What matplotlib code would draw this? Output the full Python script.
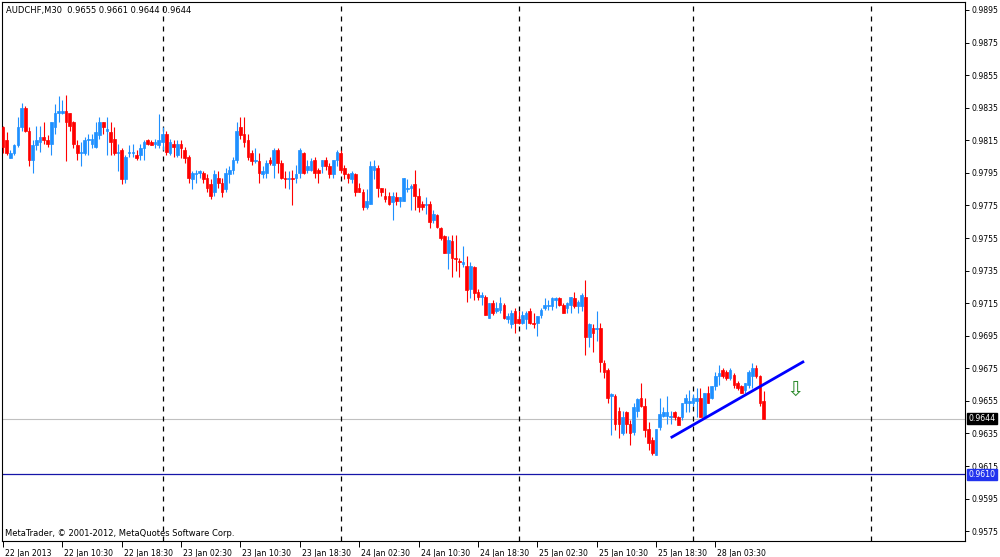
import numpy as np
import matplotlib
matplotlib.use("Agg")
import matplotlib.pyplot as plt
import matplotlib.transforms as mtransforms

# AUDCHF M30 bars, prices in pips (divide by 10000)
opens = np.array([
    9823, 9815, 9804, 9807, 9812, 9823, 9835, 9821, 9803, 9812,
    9814, 9817, 9815, 9813, 9823, 9832, 9832, 9833, 9832, 9826,
    9812, 9807, 9807, 9815, 9813, 9811, 9818, 9826, 9821, 9820,
    9816, 9807, 9809, 9791, 9807, 9807, 9806, 9806, 9810, 9815,
    9814, 9813, 9812, 9814, 9819, 9807, 9813, 9806, 9813, 9809,
    9805, 9791, 9794, 9795, 9795, 9792, 9788, 9783, 9792, 9789,
    9785, 9794, 9797, 9803, 9823, 9819, 9815, 9807, 9802, 9802,
    9794, 9795, 9803, 9800, 9809, 9801, 9792, 9791, 9792, 9792,
    9795, 9807, 9797, 9797, 9803, 9797, 9799, 9803, 9799, 9794,
    9803, 9807, 9798, 9794, 9791, 9794, 9786, 9783, 9774, 9776,
    9797, 9798, 9786, 9781, 9781, 9777, 9780, 9778, 9778, 9785,
    9786, 9788, 9781, 9776, 9775, 9776, 9766, 9769, 9761, 9756,
    9746, 9753, 9743, 9741, 9739, 9738, 9724, 9737, 9722, 9719,
    9719, 9706, 9715, 9710, 9711, 9714, 9705, 9702, 9710, 9705,
    9703, 9705, 9710, 9703, 9703, 9708, 9712, 9713, 9713, 9717,
    9718, 9714, 9712, 9714, 9718, 9713, 9713, 9719, 9694, 9700,
    9699, 9700, 9678, 9674, 9658, 9658, 9649, 9635, 9648, 9641,
    9636, 9649, 9657, 9652, 9638, 9631, 9622, 9639, 9646, 9646,
    9645, 9648, 9645, 9645, 9654, 9654, 9654, 9655, 9657, 9645,
    9660, 9657, 9664, 9670, 9674, 9673, 9669, 9671, 9666, 9664,
    9662, 9665, 9670, 9675, 9670, 9655]) / 10000
highs = np.array([
    9824, 9820, 9809, 9813, 9829, 9838, 9836, 9823, 9815, 9824,
    9824, 9826, 9818, 9826, 9837, 9842, 9840, 9843, 9832, 9827,
    9815, 9814, 9817, 9819, 9819, 9826, 9829, 9826, 9829, 9826,
    9823, 9813, 9810, 9806, 9812, 9813, 9809, 9813, 9815, 9816,
    9815, 9816, 9831, 9823, 9821, 9816, 9815, 9815, 9815, 9811,
    9806, 9796, 9797, 9797, 9796, 9794, 9791, 9797, 9796, 9792,
    9798, 9799, 9805, 9826, 9829, 9829, 9819, 9809, 9810, 9807,
    9799, 9803, 9805, 9810, 9810, 9803, 9796, 9796, 9797, 9800,
    9810, 9808, 9803, 9804, 9805, 9798, 9803, 9805, 9801, 9803,
    9809, 9809, 9800, 9795, 9796, 9795, 9789, 9785, 9785, 9802,
    9803, 9800, 9786, 9786, 9783, 9783, 9783, 9780, 9792, 9791,
    9788, 9797, 9786, 9778, 9780, 9778, 9772, 9770, 9762, 9757,
    9756, 9757, 9757, 9743, 9750, 9744, 9740, 9738, 9724, 9722,
    9720, 9715, 9717, 9716, 9719, 9715, 9709, 9711, 9712, 9710,
    9710, 9710, 9712, 9709, 9707, 9712, 9718, 9717, 9719, 9719,
    9719, 9715, 9716, 9719, 9722, 9717, 9721, 9729, 9703, 9702,
    9710, 9703, 9680, 9675, 9660, 9659, 9651, 9649, 9649, 9643,
    9654, 9657, 9666, 9657, 9642, 9633, 9638, 9657, 9651, 9658,
    9649, 9649, 9646, 9654, 9659, 9662, 9659, 9663, 9663, 9660,
    9664, 9664, 9673, 9677, 9675, 9674, 9675, 9672, 9667, 9665,
    9666, 9674, 9678, 9677, 9671, 9661]) / 10000
lows = np.array([
    9807, 9806, 9804, 9806, 9811, 9821, 9820, 9799, 9795, 9809,
    9808, 9813, 9811, 9806, 9819, 9826, 9831, 9802, 9821, 9810,
    9803, 9799, 9806, 9806, 9810, 9810, 9816, 9819, 9806, 9806,
    9806, 9796, 9788, 9789, 9805, 9805, 9803, 9803, 9803, 9812,
    9812, 9810, 9810, 9809, 9806, 9806, 9805, 9805, 9804, 9801,
    9789, 9785, 9789, 9792, 9789, 9783, 9779, 9781, 9786, 9780,
    9783, 9789, 9794, 9801, 9816, 9811, 9803, 9800, 9801, 9789,
    9792, 9792, 9800, 9792, 9795, 9791, 9786, 9785, 9775, 9789,
    9792, 9794, 9795, 9796, 9792, 9789, 9795, 9797, 9792, 9792,
    9799, 9795, 9791, 9789, 9789, 9781, 9783, 9772, 9773, 9776,
    9791, 9780, 9781, 9777, 9775, 9766, 9775, 9774, 9778, 9783,
    9772, 9772, 9771, 9772, 9770, 9761, 9764, 9761, 9754, 9746,
    9736, 9731, 9735, 9731, 9737, 9716, 9718, 9717, 9717, 9714,
    9708, 9706, 9708, 9709, 9709, 9705, 9703, 9700, 9697, 9702,
    9702, 9699, 9702, 9700, 9695, 9706, 9711, 9711, 9711, 9712,
    9713, 9709, 9709, 9709, 9712, 9709, 9710, 9683, 9688, 9685,
    9692, 9673, 9669, 9654, 9634, 9637, 9632, 9634, 9635, 9628,
    9634, 9645, 9651, 9633, 9625, 9622, 9622, 9637, 9645, 9641,
    9641, 9643, 9640, 9643, 9648, 9648, 9652, 9645, 9645, 9645,
    9654, 9656, 9662, 9665, 9669, 9668, 9668, 9663, 9662, 9660,
    9660, 9663, 9663, 9669, 9652, 9644]) / 10000
closes = np.array([
    9811, 9807, 9807, 9812, 9823, 9835, 9821, 9803, 9812, 9815,
    9817, 9815, 9813, 9826, 9832, 9833, 9833, 9826, 9824, 9813,
    9807, 9808, 9815, 9816, 9816, 9820, 9826, 9823, 9822, 9814,
    9807, 9808, 9791, 9805, 9808, 9808, 9804, 9810, 9814, 9813,
    9812, 9814, 9815, 9819, 9808, 9814, 9811, 9813, 9810, 9804,
    9792, 9795, 9795, 9796, 9791, 9786, 9781, 9794, 9789, 9783,
    9795, 9797, 9803, 9821, 9818, 9814, 9805, 9802, 9803, 9795,
    9796, 9801, 9801, 9809, 9801, 9792, 9791, 9792, 9791, 9794,
    9809, 9795, 9799, 9802, 9795, 9795, 9803, 9799, 9794, 9803,
    9808, 9797, 9794, 9792, 9795, 9783, 9783, 9774, 9778, 9799,
    9799, 9786, 9783, 9779, 9776, 9781, 9778, 9780, 9792, 9786,
    9787, 9781, 9774, 9774, 9776, 9765, 9770, 9762, 9755, 9746,
    9754, 9743, 9742, 9740, 9740, 9723, 9738, 9721, 9719, 9720,
    9708, 9715, 9709, 9712, 9715, 9706, 9707, 9709, 9703, 9703,
    9708, 9709, 9703, 9702, 9707, 9711, 9714, 9714, 9718, 9718,
    9714, 9709, 9715, 9719, 9713, 9716, 9720, 9694, 9702, 9697,
    9700, 9679, 9673, 9657, 9659, 9641, 9641, 9645, 9641, 9635,
    9651, 9656, 9652, 9637, 9629, 9623, 9638, 9647, 9648, 9648,
    9646, 9645, 9640, 9654, 9657, 9655, 9657, 9657, 9645, 9660,
    9654, 9664, 9670, 9672, 9670, 9669, 9674, 9665, 9663, 9660,
    9666, 9673, 9675, 9670, 9654, 9644]) / 10000

# time axis labels (bar index -> text)
label_bars = [0, 16, 32, 48, 64, 80, 96, 112, 128, 144, 160, 176, 192]
label_texts = ["22 Jan 2013", "22 Jan 10:30", "22 Jan 18:30", "23 Jan 02:30",
               "23 Jan 10:30", "23 Jan 18:30", "24 Jan 02:30", "24 Jan 10:30",
               "24 Jan 18:30", "25 Jan 02:30", "25 Jan 10:30", "25 Jan 18:30",
               "28 Jan 03:30"]
day_breaks = [43, 91, 139, 186, 234]

price_ticks = [0.9895, 0.9875, 0.9855, 0.9835, 0.9815, 0.9795, 0.9775, 0.9755,
               0.9735, 0.9715, 0.9695, 0.9675, 0.9655, 0.9635, 0.9615, 0.9595, 0.9575]
bid_price = 0.9644
hline_price = 0.9610
trend_x = [180.3, 215.6]
trend_y = [0.96328, 0.96789]
arrow_x, arrow_y = 213.6, 0.9662

bull = "#1E90FF"
bear = "#FF0000"

fig = plt.figure(figsize=(10, 5.57), dpi=100)
ax = fig.add_axes([0.002, 1 - 541 / 557, 0.963, 539 / 557])

idx = np.arange(len(opens))
cols = np.where(closes >= opens, bull, bear)

ax.vlines(idx, lows, highs, colors=cols, linewidth=0.8, zorder=3)
ax.bar(idx, np.abs(closes - opens), bottom=np.minimum(opens, closes), width=0.72,
       color=cols, edgecolor=cols, linewidth=0.5, zorder=4)

for d in day_breaks:
    ax.axvline(d, color="black", linewidth=0.9, linestyle=(0, (4, 4)), zorder=2)

ax.axhline(bid_price, color="#C0C0C0", linewidth=0.8, zorder=1)
ax.axhline(hline_price, color="#1515A8", linewidth=0.9, zorder=2)

ax.plot(trend_x, trend_y, color="#0000FF", linewidth=2.0, zorder=5)
ax.text(arrow_x, arrow_y, "\u21e9", color="#2E8B2E", fontsize=15,
        ha="center", va="center", zorder=6)

ax.set_xlim(-0.27, 259.3)
ax.set_ylim(0.95690, 0.98999)

ax.yaxis.tick_right()
ax.set_yticks(price_ticks)
ax.set_yticklabels(["%.4f" % p for p in price_ticks])
ax.tick_params(axis="y", direction="out", length=3, width=0.7, pad=2,
               labelsize=5.6, colors="black")

ax.set_xticks(label_bars)
ax.set_xticklabels(label_texts, ha="left")
ax.tick_params(axis="x", direction="out", length=4, width=0.7, pad=1.5,
               labelsize=5.6, colors="black")
offset = mtransforms.ScaledTranslation(2 / 100, 0, fig.dpi_scale_trans)
for lbl in ax.get_xticklabels():
    lbl.set_transform(lbl.get_transform() + offset)

for s in ax.spines.values():
    s.set_color("black")
    s.set_linewidth(0.8)

tr = mtransforms.blended_transform_factory(ax.transAxes, ax.transData)
ax.text(1.0035, bid_price, "%.4f" % bid_price, transform=tr, color="white",
        fontsize=5.6, va="center", ha="left", clip_on=False,
        bbox=dict(boxstyle="square,pad=0.15", facecolor="black", edgecolor="black"))
ax.text(1.0035, hline_price, "%.4f" % hline_price, transform=tr, color="white",
        fontsize=5.6, va="center", ha="left", clip_on=False,
        bbox=dict(boxstyle="square,pad=0.15", facecolor="#2233EE", edgecolor="#2233EE"))

fig.text(0.006, 1 - 10 / 557, "AUDCHF,M30  0.9655 0.9661 0.9644 0.9644",
         fontsize=6, va="center", ha="left", color="black")
fig.text(0.005, 1 - 533 / 557, "MetaTrader, \u00a9 2001-2012, MetaQuotes Software Corp.",
         fontsize=6, va="center", ha="left", color="black")

fig.savefig("out.png", dpi=100, facecolor="white")
